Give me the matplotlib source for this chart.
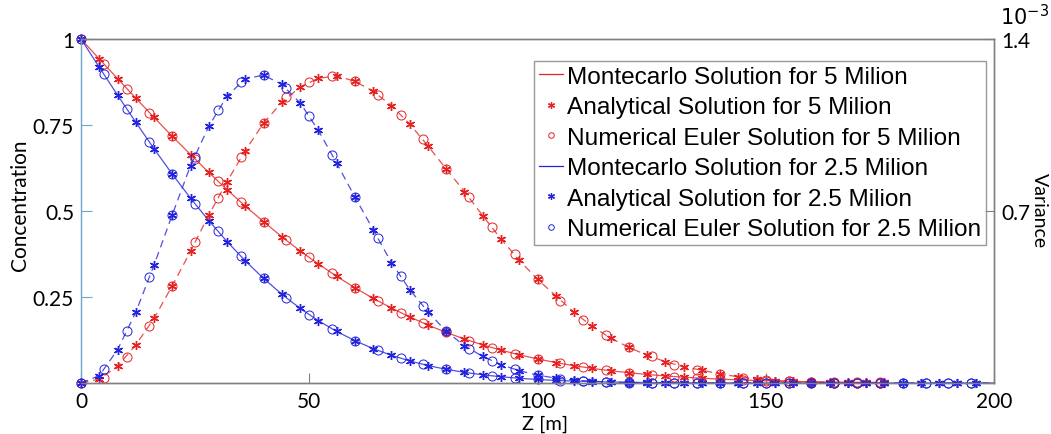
import numpy as np
import matplotlib
matplotlib.use("Agg")
import matplotlib.pyplot as plt
from matplotlib.lines import Line2D

# depth grids [m]: analytical / Monte Carlo every 4 m, Euler every 5 m
z4_blue = np.arange(0, 201, 4)
z4_red = np.arange(0, 177, 4)
z5_blue = np.arange(0, 196, 5)
z5_red = np.arange(0, 176, 5)

# 2.5 milion particles
blue_conc = [1.000, 0.918, 0.837, 0.758, 0.681, 0.607, 0.537, 0.472, 0.411, 0.355,
             0.304, 0.258, 0.217, 0.181, 0.150, 0.123, 0.100, 0.0805, 0.0642, 0.0508,
             0.0397, 0.0311, 0.0237, 0.0182, 0.0138, 0.0102, 0.0075, 0.0056, 0.0041, 0.0029,
             0.0021, 0.0015, 0.0011, 0.0007, 0.0005, 0.0003, 0.0002, 0.0001, 0.0001, 0.0,
             0.0, 0.0, 0.0, 0.0, 0.0, 0.0, 0.0, 0.0, 0.0, 0.0, 0.0]
blue_var = [0.0, 0.03, 0.135, 0.288, 0.48, 0.685, 0.885, 1.045, 1.168, 1.238,
            1.253, 1.215, 1.14, 1.028, 0.895, 0.757, 0.624, 0.49, 0.38, 0.29,
            0.21, 0.152, 0.108, 0.075, 0.05, 0.032, 0.02, 0.012, 0.007, 0.004,
            0.002, 0.001, 0.0, 0.0, 0.0, 0.0, 0.0, 0.0, 0.0, 0.0,
            0.0, 0.0, 0.0, 0.0, 0.0, 0.0, 0.0, 0.0, 0.0, 0.0, 0.0]
blue_conc_euler = [1.000, 0.898, 0.797, 0.700, 0.607, 0.520, 0.441, 0.368, 0.304, 0.2475,
                   0.1987, 0.1573, 0.123, 0.0949, 0.0721, 0.0539, 0.0397, 0.0293, 0.0210, 0.0148,
                   0.0102, 0.0070, 0.0047, 0.0031, 0.0021, 0.0014, 0.0009, 0.0006, 0.0003, 0.0002,
                   0.0001, 0.0, 0.0, 0.0, 0.0, 0.0, 0.0, 0.0, 0.0, 0.0]
blue_var_euler = [0.0, 0.055, 0.211, 0.433, 0.685, 0.918, 1.112, 1.224, 1.253, 1.2,
                  1.085, 0.929, 0.757, 0.589, 0.435, 0.315, 0.21, 0.138, 0.09, 0.056,
                  0.032, 0.018, 0.01, 0.005, 0.002, 0.001, 0.0, 0.0, 0.0, 0.0,
                  0.0, 0.0, 0.0, 0.0, 0.0, 0.0, 0.0, 0.0, 0.0, 0.0]

# 5 milion particles
red_conc = [1.000, 0.942, 0.885, 0.828, 0.772, 0.717, 0.664, 0.612, 0.562, 0.514,
            0.469, 0.425, 0.384, 0.346, 0.310, 0.277, 0.246, 0.218, 0.192, 0.1685,
            0.147, 0.128, 0.1108, 0.0955, 0.0819, 0.070, 0.0595, 0.0503, 0.0424, 0.0355,
            0.0300, 0.0248, 0.0206, 0.0168, 0.0139, 0.0112, 0.0092, 0.0073, 0.0060, 0.0047,
            0.0037, 0.0030, 0.0024, 0.0019, 0.0015]
red_var = [0.0, 0.016, 0.068, 0.155, 0.263, 0.396, 0.536, 0.684, 0.82, 0.946,
           1.058, 1.142, 1.205, 1.24, 1.25, 1.228, 1.187, 1.129, 1.054, 0.965,
           0.871, 0.779, 0.681, 0.586, 0.5, 0.422, 0.355, 0.288, 0.23, 0.183,
           0.145, 0.113, 0.087, 0.066, 0.052, 0.037, 0.025, 0.016, 0.01, 0.006,
           0.004, 0.002, 0.001, 0.001, 0.0]
red_conc_euler = [1.000, 0.928, 0.856, 0.786, 0.717, 0.651, 0.587, 0.526, 0.469, 0.415,
                  0.365, 0.319, 0.277, 0.239, 0.2045, 0.174, 0.147, 0.1235, 0.1028, 0.0852,
                  0.070, 0.0569, 0.0462, 0.0372, 0.0300, 0.0235, 0.0187, 0.0146, 0.0112, 0.0087,
                  0.0066, 0.0050, 0.0037, 0.0029, 0.0022, 0.0016]
red_var_euler = [0.0, 0.022, 0.105, 0.233, 0.396, 0.574, 0.754, 0.918, 1.058, 1.162,
                 1.226, 1.25, 1.228, 1.172, 1.091, 0.993, 0.871, 0.755, 0.634, 0.525,
                 0.422, 0.335, 0.258, 0.195, 0.145, 0.108, 0.074, 0.054, 0.037, 0.022,
                 0.012, 0.007, 0.004, 0.002, 0.001, 0.0]

x_ticks = [0, 50, 100, 150, 200]
conc_ticks = [0.25, 0.5, 0.75, 1]
conc_ticklabels = ["0.25", "0.5", "0.75", "1"]
var_ticks = [0.7, 1.4]  # x 10^-3

labels = ["Montecarlo Solution for 5 Milion",
          "Analytical Solution for 5 Milion",
          "Numerical Euler Solution for 5 Milion",
          "Montecarlo Solution for 2.5 Milion",
          "Analytical Solution for 2.5 Milion",
          "Numerical Euler Solution for 2.5 Milion"]

RED = "#e52222"
BLUE = "#2323dd"
GREY = "#808080"
AXBLUE = "#6aa6cc"
STAR = (6, 2, 0)  # six-armed asterisk
tick_font = "Lato"


def draw_set(ax, z4, z5, mc, ana, euler, color, ls, cut):
    ax.plot(z4, mc, ls=ls, color=color, lw=0.9, alpha=0.8,
            dashes=(6, 4) if ls == "--" else (None, None))
    ax.plot(z4[:cut], ana[:cut], ls="none", marker=STAR, ms=6.5, mew=1.0,
            color=color, clip_on=False)
    ax.plot(z5, euler, ls="none", marker="o", ms=6.5, mfc="none", mew=0.7,
            color=color, clip_on=False)


fig = plt.figure(figsize=(10.51, 4.35), dpi=100)
ax = fig.add_axes([81 / 1051, 51 / 435, 913 / 1051, 344 / 435])
ax2 = ax.twinx()

# concentration (left axis)
draw_set(ax, z4_red, z5_red, red_conc, red_conc, red_conc_euler, RED, "-", len(z4_red))
draw_set(ax, z4_blue, z5_blue, blue_conc, blue_conc, blue_conc_euler, BLUE, "-", len(z4_blue) - 1)

# variance (right axis)
draw_set(ax2, z4_red, z5_red, red_var, red_var, red_var_euler, RED, "--", len(z4_red))
draw_set(ax2, z4_blue, z5_blue, blue_var, blue_var, blue_var_euler, BLUE, "--", len(z4_blue) - 1)

ax.set_xlim(0, 200)
ax.set_ylim(0, 1)
ax2.set_ylim(0, 1.4)

ax.set_xticks(x_ticks)
ax.set_xticklabels([str(t) for t in x_ticks])
ax.set_yticks(conc_ticks)
ax.set_yticklabels(conc_ticklabels)
ax2.set_yticks(var_ticks)
ax2.set_yticklabels(["0.7", "1.4"])

for a in (ax, ax2):
    for s in a.spines.values():
        s.set_color(GREY)
        s.set_linewidth(1.0)
ax.spines["left"].set_color(AXBLUE)
ax2.spines["left"].set_visible(False)

ax.tick_params(axis="x", direction="in", length=7, color=GREY, pad=6, labelsize=15)
ax.tick_params(axis="y", direction="in", length=8, color=AXBLUE, pad=5, labelsize=15)
ax2.tick_params(axis="y", direction="in", length=8, color=GREY, pad=5, labelsize=15)
for lab in ax.get_xticklabels() + ax.get_yticklabels() + ax2.get_yticklabels():
    lab.set_fontfamily(tick_font)

ax.set_xlabel("Z [m]", fontsize=14.5, family=tick_font)
ax.xaxis.set_label_coords(0.508, -0.118)
ax.xaxis.label.set_va("center")
ax.set_ylabel("Concentration", fontsize=15, family=tick_font)
ax.yaxis.set_label_coords(-0.067, 0.52)
ax.yaxis.label.set_va("center")
ax2.set_ylabel("Variance", fontsize=14, family=tick_font, rotation=270)
ax2.yaxis.set_label_coords(1.05, 0.503)
ax2.yaxis.label.set_va("center")

fig.text(1000 / 1051, 1 - 17 / 435, r"$10^{-3}$", fontsize=15, va="center", ha="left")

handles = [
    Line2D([], [], color=RED, lw=0.9),
    Line2D([], [], ls="none", marker=STAR, ms=5, mew=0.9, color=RED),
    Line2D([], [], ls="none", marker="o", ms=4, mfc="none", mew=0.7, color=RED),
    Line2D([], [], color=BLUE, lw=0.9),
    Line2D([], [], ls="none", marker=STAR, ms=5, mew=0.9, color=BLUE),
    Line2D([], [], ls="none", marker="o", ms=4, mfc="none", mew=0.7, color=BLUE),
]
leg = ax2.legend(handles, labels, loc="upper left",
                 bbox_to_anchor=(534 / 1051, 1 - 62 / 435), bbox_transform=fig.transFigure,
                 prop={"family": "Liberation Sans", "size": 17.6},
                 frameon=True, fancybox=False, borderaxespad=0, borderpad=0.2,
                 handlelength=1.0, handletextpad=0.15, labelspacing=0.34)
leg.get_frame().set_edgecolor(GREY)
leg.get_frame().set_linewidth(1.0)

fig.savefig("out.png", dpi=100)
